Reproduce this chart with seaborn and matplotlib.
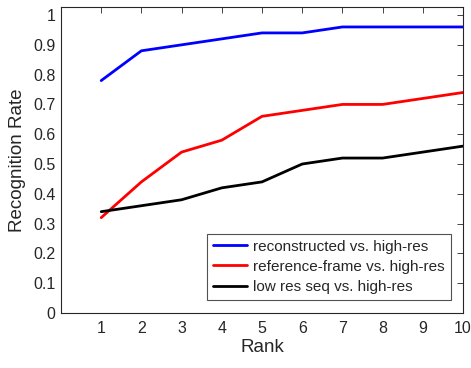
import matplotlib
matplotlib.use("Agg")
import matplotlib.pyplot as plt
import numpy as np
import pandas as pd
import seaborn as sns

rank = list(range(1, 11))
reconstructed = [0.78, 0.88, 0.90, 0.92, 0.94, 0.94, 0.96, 0.96, 0.96, 0.96]
reference_frame = [0.32, 0.44, 0.54, 0.58, 0.66, 0.68, 0.70, 0.70, 0.72, 0.74]
low_res = [0.34, 0.36, 0.38, 0.42, 0.44, 0.50, 0.52, 0.52, 0.54, 0.56]
labels = ["reconstructed vs. high-res", "reference-frame vs. high-res",
          "low res seq vs. high-res"]

df = pd.DataFrame({
    "Rank": rank * 3,
    "Rate": reconstructed + reference_frame + low_res,
    "Method": [labels[0]] * 10 + [labels[1]] * 10 + [labels[2]] * 10,
})

sns.set_style("white")
plt.rcParams["font.family"] = ["Liberation Sans", "DejaVu Sans"]

fig = plt.figure(figsize=(4.71, 3.68), dpi=100)
ax = fig.add_axes([0.1295, 0.1495, 0.8535, 0.8315])

sns.lineplot(data=df, x="Rank", y="Rate", hue="Method",
             palette=["#0000ff", "#ff0000", "#000000"], linewidth=2, ax=ax)

ax.set_xlim(0, 10)
ax.set_ylim(0, 1.027)
ax.set_xticks(rank)
ax.set_yticks(np.round(np.arange(0, 1.01, 0.1), 1))
ax.set_yticklabels(["0"] + [f"{v:.1f}" for v in np.arange(0.1, 0.95, 0.1)] + ["1"])
ax.tick_params(direction="in", length=4, width=0.6, colors="#262626",
               labelsize=11.5, top=True, right=True, labelcolor="#262626")
ax.tick_params(axis="x", pad=6)
ax.tick_params(axis="y", pad=4)
for s in ax.spines.values():
    s.set_color("#262626")
    s.set_linewidth(0.8)
ax.set_xlabel("Rank", fontsize=13.5, color="#262626", labelpad=2)
ax.set_ylabel("Recognition Rate", fontsize=13.5, color="#262626", labelpad=5)

leg = ax.legend(loc="lower right", bbox_to_anchor=(0.970, 0.0425), fontsize=11,
                frameon=True, fancybox=False, borderpad=0.4, labelspacing=0.4,
                handlelength=2.2, handletextpad=0.4, borderaxespad=0)
leg.get_frame().set_edgecolor("#262626")
leg.get_frame().set_linewidth(0.8)

fig.savefig("out.png", dpi=100)
